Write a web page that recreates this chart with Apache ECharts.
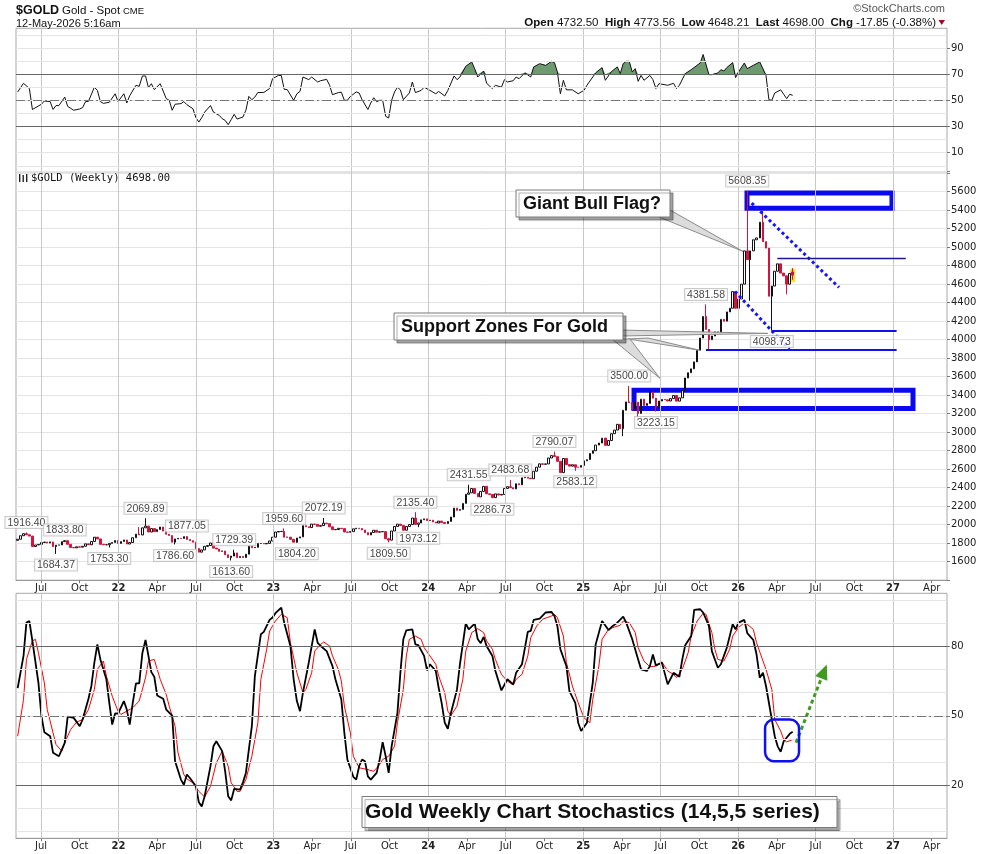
<!DOCTYPE html>
<html><head><meta charset="utf-8">
<script src="https://cdn.jsdelivr.net/npm/echarts@6/dist/echarts.min.js"></script>
<style>html,body{margin:0;padding:0;background:#fff}#c{width:990px;height:854px}</style>
</head><body><div id="c"></div>
<script>
// ---------------- DATA ----------------
const START = Date.UTC(2021, 4, 7);   // plot date of first weekly candle
const firstOpen = 1831;
const closes = [
1843,1881,1903,1891,1877,1764,1781,1787,1808,1812,
1802,1814,1763,1779,1781,1817,1827,1788,1754,1750,
1761,1757,1767,1793,1783,1818,1865,1846,1788,1783,
1783,1798,1808,1829,1797,1818,1835,1791,1807,1859,
1898,1889,1966,1985,1921,1958,1925,1947,1975,1931,
1897,1883,1811,1846,1853,1851,1871,1840,1827,1811,
1742,1703,1727,1766,1775,1802,1747,1737,1712,1716,
1675,1644,1661,1695,1644,1657,1645,1681,1771,1751,
1755,1797,1797,1793,1798,1824,1865,1921,1926,1928,
1865,1865,1842,1811,1856,1868,1989,1978,1969,2007,
2004,1983,1990,2017,2011,1977,1946,1948,1961,1958,
1921,1919,1925,1955,1962,1959,1943,1914,1889,1915,
1940,1919,1924,1925,1849,1833,1932,1981,2006,1992,
1940,1981,2001,2072,2004,2019,2053,2063,2045,2049,
2029,2018,2039,2024,2013,2035,2083,2179,2155,2165,
2230,2329,2344,2391,2338,2301,2360,2415,2334,2327,
2293,2333,2321,2327,2392,2411,2400,2387,2443,2431,
2507,2512,2503,2497,2578,2622,2658,2653,2657,2721,
2747,2736,2685,2563,2716,2650,2633,2648,2622,2621,
2640,2690,2703,2771,2800,2861,2883,2936,2858,2910,
2984,3023,3085,3037,3237,3327,3319,3241,3325,3202,
3357,3289,3310,3433,3368,3274,3337,3355,3350,3337,
3363,3397,3336,3371,3448,3586,3643,3685,3760,3886,
4018,4251,4110,4000,4040,4085,4065,4220,4200,4300,
4340,4520,4340,4440,4600,4960,4865,4960,5080,5100,
5270,5060,4990,4470,4580,4740,4820,4720,4690,4600,
4716,4698
];
const openOverrides = [[261, 4732.50]];
const labeledHighs = [[3,1916.40],[16,1833.80],[43,2069.89],[57,1877.05],[73,1729.39],[90,1959.60],[103,2072.19],[134,2135.40],[152,2431.55],[166,2483.68],[181,2790.07],[206,3500.00],[232,4381.58],[246,5608.35]];
const labeledLows = [[13,1684.37],[31,1753.30],[53,1786.60],[72,1613.60],[94,1804.20],[125,1809.50],[135,1973.12],[160,2286.73],[188,2583.12],[215,3223.15],[254,4098.73]];
const extraHighs = [[41,1974],[251,5390],[261,4773.56]];
const extraLows = [[204,2957],[209,3120],[233,3890],[247,4420],[259,4490],[261,4648.21]];

const rsiPoints = [[0,56.4],[2,63],[4,59],[5,43],[8,47],[9,49.5],[11,49],[12,43],[13,46],[14,46],[16,52.5],[17,45.4],[19,42.4],[21,43.4],[22,44.5],[23,49],[24,49.2],[26,60],[27,57.6],[28,49],[29,47.7],[31,48.5],[33,55],[34,49],[36,55],[37,48],[38,53.5],[40,61.5],[41,60.7],[42,68.6],[43,68.6],[44,59.7],[45,62.7],[46,58.2],[48,62.7],[50,51.3],[51,50],[52,42.4],[53,47],[55,47.5],[56,49],[57,46.7],[59,43.6],[60,36.8],[61,33.4],[62,36.8],[63,41],[65,46],[66,41],[68,38.5],[69,36],[70,34.7],[71,31.4],[72,35.3],[73,39.3],[74,35.7],[75,36.5],[76,37.2],[77,42.4],[78,53],[79,50.5],[80,52.5],[81,56],[83,56],[85,59],[86,66.5],[88,69],[89,69],[90,58.4],[91,58.2],[93,50],[94,55],[95,56.8],[96,67.8],[98,65.8],[99,67.8],[101,64],[102,65],[104,66],[105,61.5],[106,54.3],[108,55.9],[109,56.2],[110,50],[111,50],[112,53],[114,56.4],[115,55.6],[116,50.5],[118,43],[119,48],[120,52],[121,49],[122,50],[123,50],[124,37.8],[125,36.5],[126,50],[127,56.4],[128,60],[129,58],[130,50.5],[132,55.6],[133,64],[134,55.9],[136,57.6],[137,60],[139,57.6],[141,55],[142,56.8],[144,53.3],[145,57.6],[147,68.6],[148,65.8],[149,67.8],[151,76],[153,79.3],[154,74],[155,67.8],[157,72.4],[158,63],[160,59],[161,61.5],[163,60],[164,65.8],[165,64],[167,65],[168,67.8],[169,66.5],[171,71],[173,67.8],[174,75.5],[176,78],[178,76.7],[180,79.8],[181,78.8],[182,71.7],[183,55],[184,65.3],[185,58],[187,58],[189,55],[191,57.6],[192,61.5],[194,67.8],[195,71],[197,75],[198,65.3],[200,72],[202,75.5],[203,70.4],[204,78],[205,79.8],[206,79.8],[207,71.7],[208,74.2],[209,64.5],[210,69],[211,65.3],[213,69],[214,65.8],[215,59],[216,62.7],[219,61.5],[221,63],[222,59],[223,61.5],[225,70.4],[227,73.4],[230,78.5],[231,85],[233,69.6],[234,69.6],[236,70.9],[237,73.4],[238,72.4],[239,75],[241,78.8],[242,67.3],[243,71.7],[245,78.5],[246,74.2],[248,76.7],[250,79.3],[252,69],[253,50.5],[254,50],[255,55.6],[257,58],[258,54.6],[259,51.3],[260,54.6],[261,53.8]];

const stochK = [[0,62],[2,75.9],[3,90.3],[4,91],[5,82.4],[7,64.3],[8,49.9],[9,42.9],[11,41.2],[12,34],[14,32.5],[16,38.3],[17,49.6],[19,49.1],[21,45.5],[22,48.4],[24,57.4],[25,62.9],[26,73],[27,80.9],[28,74.4],[30,65.8],[31,55.6],[32,46.2],[33,51],[34,50.9],[36,56.4],[37,52.7],[38,46.2],[39,55.6],[40,64],[41,64],[42,77.3],[43,82.8],[44,75.9],[45,68.9],[46,66.9],[47,58.8],[49,57.4],[50,52.7],[52,50.1],[53,30.3],[55,22.4],[56,20.2],[57,24.6],[58,23.1],[60,19.5],[61,12.6],[62,10.8],[63,15.2],[65,28.2],[66,36.8],[67,39],[69,34.7],[70,26],[71,15.2],[72,13.4],[73,18.4],[75,18.1],[76,21.2],[77,25.3],[79,45.5],[80,67.2],[82,85.3],[83,86.3],[85,91.5],[86,92.5],[87,94.4],[89,96.8],[90,90.3],[92,80.2],[93,65.8],[94,56.4],[95,52],[96,60],[98,73],[100,87.4],[101,81.6],[102,80.2],[104,78],[106,71.5],[107,65.8],[109,57],[110,42.6],[111,31.1],[113,23.6],[114,22.4],[115,28.2],[116,31.1],[117,30.3],[118,23.8],[119,22.4],[121,25.3],[122,31.1],[123,38.6],[124,32.5],[125,25.3],[126,36.8],[128,51.3],[129,68.6],[130,83.1],[131,87],[133,87.4],[134,80.9],[135,80.6],[137,75.9],[138,69.7],[139,72.3],[141,69.4],[142,62.1],[143,55.6],[144,47],[145,44.4],[146,51.3],[148,61.4],[149,72.3],[151,90],[152,87.4],[154,89.9],[155,83.1],[156,81.4],[157,84.1],[158,80.2],[160,75.9],[161,69.4],[163,61],[165,65.8],[167,63.6],[168,68.6],[170,72.3],[172,86.3],[173,86.7],[174,91.5],[176,92],[178,94.7],[180,94.9],[181,93.2],[182,88.9],[183,78.8],[185,71.5],[186,60.7],[188,55.6],[189,47],[190,43.4],[192,47],[194,64.3],[195,80.9],[197,91],[199,87.1],[200,88.4],[202,90.3],[204,92.9],[205,90.3],[207,83.1],[209,74.4],[210,70.1],[212,69.4],[213,71.5],[214,76.5],[215,71.8],[217,73],[219,63.6],[221,68.6],[223,66.9],[224,74.4],[225,80.5],[227,84.5],[228,95.8],[230,96.1],[231,94.7],[233,88.9],[234,78],[236,70.8],[237,72.3],[239,79.5],[241,89.6],[242,87.4],[243,90.3],[245,91.5],[246,85.8],[248,82.8],[249,76.6],[250,66.5],[251,68.6],[252,62.9],[254,48.4],[255,41.2],[256,36.8],[257,34.4],[258,39],[260,42.2],[261,43.1]];

const stochD = [[0,41.2],[2,57],[3,74.4],[5,82.4],[6,83.1],[7,77.3],[9,64.3],[10,52.7],[12,42.6],[13,37.6],[15,34.7],[16,38.3],[18,44.1],[20,47.3],[22,48.4],[24,52.7],[26,61.4],[27,70.1],[29,73.7],[30,67.2],[32,58.5],[34,52],[35,50.6],[37,52],[39,53.5],[41,56.4],[43,66.5],[44,73.7],[46,74.4],[48,65.8],[50,59.2],[51,54.2],[53,45.5],[54,34],[56,24.6],[57,22.7],[59,21],[61,17.3],[63,14.9],[65,19.5],[67,29.6],[69,34.7],[71,28.2],[72,21],[74,17.3],[75,17.3],[77,22.4],[79,32.5],[81,47],[82,65.8],[84,78.8],[85,86.7],[87,91],[89,93.9],[91,92.5],[92,81.6],[94,68.6],[96,60],[97,61.4],[99,68.6],[100,78],[102,80.9],[103,81.9],[105,80.2],[106,75.9],[108,70.1],[109,65],[110,54.2],[112,42.6],[113,32.5],[115,27.5],[117,27],[118,26.7],[120,26],[122,28.9],[123,31.1],[125,32.5],[127,36.8],[128,47],[130,61.4],[131,75.9],[132,83.1],[134,84.5],[136,83.1],[137,79.5],[139,75.9],[141,72.3],[142,67.2],[144,60],[145,52],[146,50.1],[148,54.2],[150,65.8],[151,78],[153,86],[155,87.7],[157,86],[158,82.4],[160,78.8],[161,74.4],[163,67.9],[165,65],[167,63.3],[168,65.8],[170,67.9],[172,75.9],[173,83.8],[175,88.9],[177,91.8],[180,93.2],[181,93.9],[182,92.5],[184,84.5],[185,73],[187,62.9],[189,55.6],[191,49.1],[193,47],[194,57],[196,71.5],[197,83.1],[199,87.4],[201,88.4],[203,89.2],[204,91],[206,90.3],[208,86],[209,79.5],[211,73.7],[213,71.2],[215,71.5],[217,73.3],[219,69.4],[221,67.9],[222,66.5],[224,70.1],[226,77.3],[227,84.5],[229,91],[231,94.4],[232,93.9],[234,86],[235,78.8],[236,74.4],[238,73.7],[240,78.8],[241,84.5],[243,88.2],[245,90.3],[246,89.6],[248,87.4],[249,81.6],[251,73.7],[252,70.1],[254,61.4],[255,48.4],[257,43.4],[258,39.7],[259,38.7],[261,39.7]];

// axis ticks (months since Jan 2021)
const quarterTicks = [6,9,12,15,18,21,24,27,30,33,36,39,42,45,48,51,54,57,60,63,66,69,72,75];
const halfYearLines = [6,12,18,24,30,36,42,48,54,60,66,72];
const rsiLabels = [10,30,50,70,90];
const rsiGrid = [0,10,20,30,40,50,60,70,80,90,100];
const stochLabels = [20,50,80];
const stochGrid = [0,10,20,30,40,50,60,70,80,90,100];

// annotations (month, price / value)
const resistBox = [[60.69,5587],[71.92,5422]];
const supportBox = [[51.94,3453],[73.55,3255]];
const trendLines = [[[61.05,5477],[67.82,4565]],[[59.76,4522],[63.97,3892]]];
const supportLines = [[62.6,72.28,4098.73],[57.51,72.28,3888]];
const pivotLine = [63.04,72.99,4876];
const highlightBox = [[64.03,4620],[64.43,4768]];
const stochCircle = [[62.09,48.4],[64.72,30.3]];
const stochArrow = [[64.49,38.4],[66.66,69.2]];
const tipBull = [60.38,4955];
const tipSupport = [[62.31,4068],[57.05,3885],[53.95,3582]];

// ---------------- HELPERS ----------------
function wm(i){
  const d = new Date(START + i*7*86400000);
  const y = d.getUTCFullYear(), m = d.getUTCMonth();
  const dim = new Date(Date.UTC(y, m+1, 0)).getUTCDate();
  return (y-2021)*12 + m + (d.getUTCDate()-1)/dim;
}
const X_MIN = 4.0633, X_MAX = 76.183;
const AXF = "'DejaVu Sans', Verdana, sans-serif";
const SANS = "'Liberation Sans', Arial, sans-serif";
const NARROW = "'Liberation Sans Narrow','Arial Narrow','Liberation Sans',sans-serif";

const hiMap = {}, loMap = {}, opMap = {};
labeledHighs.concat(extraHighs).forEach(([i,v]) => hiMap[i] = v);
labeledLows.concat(extraLows).forEach(([i,v]) => loMap[i] = v);
openOverrides.forEach(([i,v]) => opMap[i] = v);
const candles = closes.map((c,i) => {
  const o = opMap[i] != null ? opMap[i] : (i === 0 ? firstOpen : closes[i-1]);
  const h = hiMap[i] != null ? hiMap[i] : Math.max(o,c);
  const l = loMap[i] != null ? loMap[i] : Math.min(o,c);
  return [wm(i), o, c, l, h];
});

function qLabel(v){
  const m = Math.round(v), q = ((m%12)+12)%12;
  if (q === 0) return '{y|' + String(2021 + m/12).slice(2) + '}';
  return {3:'Apr',6:'Jul',9:'Oct'}[q] || '';
}
const vLines = halfYearLines.map(m => ({xAxis:m, lineStyle:{color:'#c8c8c8', width:1, type:'solid'}}));
function hLines(vals){ return vals.map(v => ({yAxis:v, lineStyle:{color:'#e4e4e4', width:1, type:'solid'}})); }
const dark = v => ({yAxis:v, lineStyle:{color:'#666', width:1.2, type:'solid'}});
const dashdot = v => ({yAxis:v, lineStyle:{color:'#777', width:1, type:[9,3,2,3]}});
function gridSeries(g, extra){
  return {type:'line', xAxisIndex:g, yAxisIndex:g, data:[], silent:true, z:1,
    markLine:{silent:true, symbol:['none','none'], label:{show:false}, animation:false, data:extra}};
}

const xAxes = [0,1,2].map(g => ({
  type:'value', gridIndex:g, min:X_MIN, max:X_MAX,
  axisLine:{show: g>0, onZero:false, lineStyle:{color:'#999'}},
  axisTick:{show: g>0, customValues: quarterTicks, length:3, lineStyle:{color:'#777'}},
  axisLabel:{show: g>0, customValues: quarterTicks, formatter: qLabel, fontSize:10, color:'#222',
    fontFamily:AXF, margin:3, rich:{y:{fontWeight:'bold', fontSize:10, fontFamily:AXF, color:'#222'}}},
  splitLine:{show:false}
}));
const yLabel = {fontSize:10, color:'#222', fontFamily:AXF, margin:4};

const labelData = labeledHighs.map(([i,v]) => ({value:[wm(i), v], label:{position:'top', distance:4}}))
  .concat(labeledLows.map(([i,v]) => ({value:[wm(i), v], label:{position:'bottom', distance:5}})));

const option = {
  animation:false,
  backgroundColor:'#fff',
  grid:[
    {left:16, width:931, top:28.3, height:143.4, show:true, borderColor:'#a8a8a8', borderWidth:1},
    {left:16, width:931, top:171.7, height:408.5, show:true, borderColor:'#a8a8a8', borderWidth:1},
    {left:16, width:931, top:593.3, height:245, show:true, borderColor:'#a8a8a8', borderWidth:1}
  ],
  xAxis: xAxes,
  yAxis:[
    {type:'value', gridIndex:0, position:'right', min:-4.5, max:105, axisLine:{show:false},
     axisTick:{show:true, customValues:rsiLabels, length:3, lineStyle:{color:'#777'}},
     axisLabel:Object.assign({customValues:rsiLabels}, yLabel), splitLine:{show:false}},
    {type:'value', gridIndex:1, position:'right', min:1400, max:5816, interval:200, axisLine:{show:false},
     axisTick:{show:true, length:3, lineStyle:{color:'#777'}},
     axisLabel:Object.assign({formatter: v => (v < 1500 || v > 5700) ? '' : String(v)}, yLabel),
     splitLine:{show:true, lineStyle:{color:'#e4e4e4'}}},
    {type:'value', gridIndex:2, position:'right', min:-3, max:103, axisLine:{show:false},
     axisTick:{show:true, customValues:stochLabels, length:3, lineStyle:{color:'#777'}},
     axisLabel:Object.assign({customValues:stochLabels}, yLabel), splitLine:{show:false}}
  ],
  series:[
    gridSeries(0, vLines.concat(hLines(rsiGrid), [dark(30), dark(70), dashdot(50)])),
    {type:'line', xAxisIndex:0, yAxisIndex:0, z:2, symbol:'none', silent:true,
     data: rsiPoints.map(([w,v]) => [wm(w), Math.max(v,70)]),
     lineStyle:{width:0}, areaStyle:{origin:70, color:'#6f9a6f', opacity:1}},
    {type:'line', xAxisIndex:0, yAxisIndex:0, z:3, symbol:'none',
     data: rsiPoints.map(([w,v]) => [wm(w), v]), lineStyle:{color:'#111', width:1}},

    Object.assign(gridSeries(1, vLines), {
      markArea:{silent:true, itemStyle:{color:'#f2e23a'},
        data:[[{coord:highlightBox[0]},{coord:highlightBox[1]}]]}}),
    {type:'candlestick', xAxisIndex:1, yAxisIndex:1, z:3, data:candles, encode:{x:0, y:[1,2,3,4]},
     barWidth:2,
     itemStyle:{color:'#ffffff', color0:'#d5133d', borderColor:'#111', borderColor0:'#d5133d', borderWidth:1}},
    {type:'line', xAxisIndex:1, yAxisIndex:1, data:[], z:5, silent:true,
     markArea:{silent:true,
       itemStyle:{color:'rgba(0,0,0,0)', borderColor:'#0a0af0', borderWidth:5},
       data:[[{coord:resistBox[0]},{coord:resistBox[1]}],[{coord:supportBox[0]},{coord:supportBox[1]}]]},
     markLine:{silent:true, symbol:['none','none'], label:{show:false}, animation:false,
       data: trendLines.map(([a,b]) => [{coord:a, lineStyle:{color:'#1414ff', width:3, type:[3,3]}},{coord:b}])
         .concat(supportLines.map(([m1,m2,p]) => [{coord:[m1,p], lineStyle:{color:'#1010f0', width:2.2, type:'solid'}},{coord:[m2,p]}]))
         .concat([[{coord:[pivotLine[0],pivotLine[2]], lineStyle:{color:'#1a1a90', width:1.3, type:'solid'}},{coord:[pivotLine[1],pivotLine[2]]}]])
     }},
    {type:'scatter', xAxisIndex:1, yAxisIndex:1, z:6, data:labelData, symbolSize:1,
     itemStyle:{color:'rgba(0,0,0,0)'}, silent:true,
     label:{show:true, formatter: p => p.value[1].toFixed(2), fontSize:10.5, fontFamily:NARROW, color:'#111',
       backgroundColor:'#fff', borderColor:'#bdbdbd', borderWidth:1, padding:[1,2,0,2], lineHeight:10}},

    gridSeries(2, vLines.concat(hLines(stochGrid), [dark(20), dark(80), dashdot(50)])),
    {type:'line', xAxisIndex:2, yAxisIndex:2, z:3, symbol:'none',
     data: stochD.map(([w,v]) => [wm(w), v]), lineStyle:{color:'#ff0000', width:1}},
    {type:'line', xAxisIndex:2, yAxisIndex:2, z:4, symbol:'none',
     data: stochK.map(([w,v]) => [wm(w), v]), lineStyle:{color:'#000', width:1.8}},
    {type:'line', xAxisIndex:2, yAxisIndex:2, data:[], z:6, silent:true,
     markLine:{silent:true, symbol:['none','triangle'], symbolSize:[13,15], label:{show:false}, animation:false,
       data:[[{coord:stochArrow[0], lineStyle:{color:'#3f9a1f', width:3, type:[4,3]}, itemStyle:{color:'#3f9a1f'}},{coord:stochArrow[1]}]]}}
  ]
};

const chart = echarts.init(document.getElementById('c'));
chart.setOption(option);

// --------- text annotations (positioned after scales exist) ---------
const px = (g, pt) => chart.convertToPixel({gridIndex:g}, pt);
const tb = px(1, tipBull);
const ts = tipSupport.map(p => px(1, p));
const c1 = px(2, stochCircle[0]), c2 = px(2, stochCircle[1]);
const boxStyle = {fill:'#fff', stroke:'#7a7a7a', lineWidth:1, shadowColor:'rgba(0,0,0,0.35)', shadowOffsetX:3, shadowOffsetY:3, shadowBlur:1};
const tailStyle = {fill:'#dcdcdc', stroke:'#8c8c8c', lineWidth:1};
function txt(x, y, text, font, fill, align, extra){
  return {type:'text', x:x, y:y, z:100, silent:true,
    style:Object.assign({text:text, font:font, fill:fill||'#111', align:align||'left', verticalAlign:'middle',
      textAlign:align||'left', textVerticalAlign:'middle'}, extra||{})};
}
chart.setOption({graphic:[
  txt(16, 10.5, '$GOLD', 'bold 12.5px ' + SANS),
  txt(62, 11, 'Gold - Spot', '11.5px ' + SANS),
  txt(123, 11.5, 'CME', '9.5px ' + SANS),
  txt(16, 23.5, '12-May-2026 5:16am', '11px ' + SANS),
  txt(945, 9, '\u00A9StockCharts.com', '11px ' + SANS, '#555', 'right'),
  txt(936, 22.5, '{b|Open} 4732.50  {b|High} 4773.56  {b|Low} 4648.21  {b|Last} 4698.00  {b|Chg} -17.85 (-0.38%)',
      '11.5px ' + SANS, '#111', 'right', {rich:{b:{fontWeight:'bold', fontSize:11.5, fontFamily:SANS}}}),
  {type:'polygon', z:100, silent:true, shape:{points:[[938.5,20],[945,20],[941.75,25]]}, style:{fill:'#9a0c2c'}},
  txt(31, 178, '$GOLD (Weekly) 4698.00', '10.5px "DejaVu Sans Mono", monospace', '#111'),
  {type:'group', z:100, silent:true, children:[
    {type:'rect', shape:{x:19, y:174, width:1.4, height:8}, style:{fill:'#222'}},
    {type:'rect', shape:{x:22.5, y:175, width:1.4, height:7}, style:{fill:'#222'}},
    {type:'rect', shape:{x:26, y:174, width:1.4, height:8}, style:{fill:'#222'}}
  ]},
  // Giant Bull Flag callout
  {type:'polygon', z:90, silent:true, shape:{points:[[659,217],[670,210],[tb[0],tb[1]]]}, style:tailStyle},
  {type:'rect', z:91, silent:true, shape:{x:516, y:190, width:154, height:27}, style:boxStyle},
  txt(523, 204, 'Giant Bull Flag?', 'bold 18px ' + SANS),
  // Support Zones callout
  {type:'polygon', z:90, silent:true, shape:{points:[[620,330],[620,336],ts[0]]}, style:tailStyle},
  {type:'polygon', z:90, silent:true, shape:{points:[[628,339],[648,338],ts[1]]}, style:tailStyle},
  {type:'polygon', z:90, silent:true, shape:{points:[[612,339],[630,339],ts[2]]}, style:tailStyle},
  {type:'rect', z:91, silent:true, shape:{x:394, y:313, width:229, height:27}, style:boxStyle},
  txt(401, 327, 'Support Zones For Gold', 'bold 18px ' + SANS),
  // Stochastics caption
  {type:'rect', z:91, silent:true, shape:{x:362, y:796.5, width:475, height:31}, style:boxStyle},
  txt(365, 812.5, 'Gold Weekly Chart Stochastics (14,5,5 series)', 'bold 21px ' + SANS),
  // rounded box around the stochastic turn
  {type:'rect', z:95, silent:true,
   shape:{x:c1[0], y:c1[1], width:c2[0]-c1[0], height:c2[1]-c1[1], r:9},
   style:{fill:'none', stroke:'#1010ee', lineWidth:2.5}}
]});
</script>
</body></html>
